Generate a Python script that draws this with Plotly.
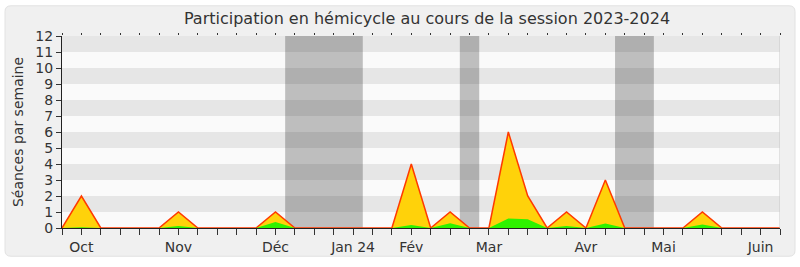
import plotly.graph_objects as go

weeks = list(range(38))
total = [0, 2, 0, 0, 0, 0, 1, 0, 0, 0, 0, 1, 0, 0, 0, 0, 0, 0, 4, 0,
         1, 0, 0, 6, 2, 0, 1, 0, 3, 0, 0, 0, 0, 1, 0, 0, 0, 0]
green = [0, 0.05, 0, 0, 0, 0, 0.12, 0, 0, 0, 0, 0.38, 0, 0, 0, 0, 0, 0, 0.18, 0,
         0.29, 0, 0, 0.59, 0.55, 0, 0.12, 0, 0.28, 0, 0, 0, 0, 0.22, 0, 0, 0, 0]
month_pos = {1: "Oct", 6: "Nov", 11: "Déc", 15: "Jan 24", 18: "Fév", 22: "Mar",
             27: "Avr", 31: "Mai", 36: "Juin"}
vacations = [(11.5, 15.5), (20.5, 21.5), (28.5, 30.5)]
title = "Participation en hémicycle au cours de la session 2023-2024"
ytitle = "Séances par semaine"

W, H = 800, 267
L, R, T, B = 62, 780, 36, 233
FONT = "DejaVu Sans, sans-serif"

def px(x):
    return (x - L) / (R - L)

def py(y):
    return (B - y) / (B - T)

fig = go.Figure()
fig.add_trace(go.Scatter(x=weeks, y=total, mode="lines", fill="tozeroy",
                         fillcolor="#FFD20A", line=dict(color="#FF3A00", width=1.5),
                         hoverinfo="skip", showlegend=False))
fig.add_trace(go.Scatter(x=weeks, y=green, mode="lines", fill="tozeroy",
                         fillcolor="#2EF200", line=dict(color="#2EF200", width=0),
                         hoverinfo="skip", showlegend=False))
fig.add_trace(go.Scatter(x=[0], y=[0], xaxis="x2", mode="markers",
                         marker=dict(opacity=0), hoverinfo="skip", showlegend=False))

shapes = []
# frame
x0, x1, y0, y1, r = px(5), px(795), py(5), py(262), 6
rx, ry = r / (R - L), r / (B - T)
path = (f"M {x0+rx},{y0} L {x1-rx},{y0} Q {x1},{y0} {x1},{y0-ry} "
        f"L {x1},{y1+ry} Q {x1},{y1} {x1-rx},{y1} L {x0+rx},{y1} "
        f"Q {x0},{y1} {x0},{y1+ry} L {x0},{y0-ry} Q {x0},{y0} {x0+rx},{y0} Z")
shapes.append(dict(type="path", path=path, xref="paper", yref="paper",
                   fillcolor="#F0F0F0", line=dict(color="#E2E2E2", width=1), layer="below"))
shapes.append(dict(type="rect", xref="x", yref="y", x0=0, x1=37, y0=0, y1=12,
                   fillcolor="#FAFAFA", line=dict(width=0), layer="below"))
for a, b in vacations:
    shapes.append(dict(type="rect", xref="x", yref="y", x0=a, x1=b, y0=0, y1=12,
                       fillcolor="#BEBEBE", line=dict(width=0), layer="below"))
for k in range(1, 12, 2):
    shapes.append(dict(type="rect", xref="x", yref="y", x0=0, x1=37, y0=k, y1=k + 1,
                       fillcolor="rgba(0,0,0,0.08)", line=dict(width=0), layer="below"))
shapes.append(dict(type="line", xref="x", yref="y", x0=37, x1=37, y0=0, y1=12,
                   line=dict(color="#C8C8C8", width=1)))

fig.update_layout(
    width=W, height=H,
    margin=dict(l=L, r=W - R, t=T, b=H - B),
    paper_bgcolor="#FFFFFF", plot_bgcolor="#FAFAFA",
    shapes=shapes,
    title=dict(text=title, xref="container", yref="container",
               x=427 / W, xanchor="center", y=1 - 18 / H, yanchor="middle",
               font=dict(family=FONT, size=16, color="#333333")),
    xaxis=dict(range=[0, 37], tickvals=weeks,
               ticktext=[month_pos.get(w, "") for w in weeks],
               ticks="outside", ticklen=6, tickcolor="#333333", tickwidth=1,
               showline=True, linecolor="#222222", linewidth=1,
               showgrid=False, zeroline=False,
               tickfont=dict(family=FONT, size=14, color="#333333")),
    xaxis2=dict(range=[0, 37], overlaying="x", side="top", tickvals=weeks,
                showticklabels=False, ticks="outside", ticklen=2, tickcolor="#333333",
                showgrid=False, zeroline=False, showline=False),
    yaxis=dict(range=[0, 12], tickvals=list(range(13)), ticks="outside", ticklen=5,
               tickcolor="#333333", showline=True, linecolor="#222222", linewidth=1,
               showgrid=False, zeroline=False,
               tickfont=dict(family=FONT, size=14, color="#333333"),
               title=dict(text=ytitle, standoff=8,
                          font=dict(family=FONT, size=14, color="#333333"))),
)
fig.write_html("out.html")
